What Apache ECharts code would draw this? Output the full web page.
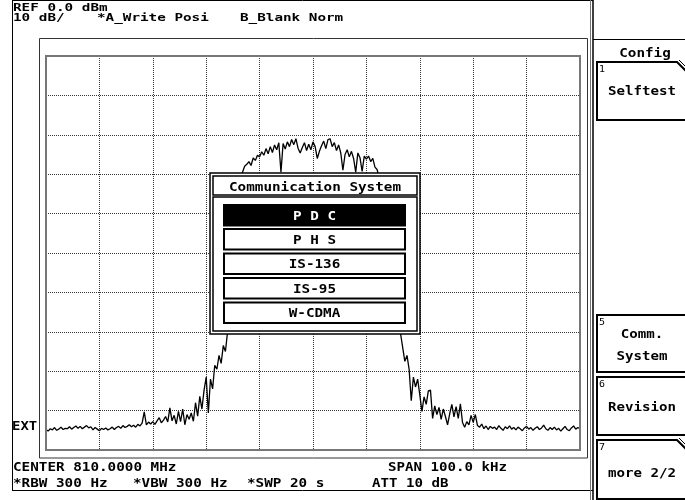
<!DOCTYPE html>
<html><head><meta charset="utf-8">
<script src="https://cdn.jsdelivr.net/npm/echarts@6/dist/echarts.min.js"></script>
<style>html,body{margin:0;padding:0;background:#fff}#c{width:685px;height:500px}</style>
</head><body><div id="c"></div>
<script>
// ---- instrument settings / data ----
const refLevelDbm = 0;          // REF 0.0 dBm (top of screen)
const dbPerDiv = 10;            // 10 dB/
const yDivs = 10;
const spanKhz = 100;            // SPAN 100.0 kHz, centred on 810 MHz
const sweepStartKhz = -50;      // offset from centre
const sweepStepKhz = 0.4;       // spacing of trace points
// Trace A (Write, Posi) level in dBm, one value per sweep point
const traceA = [
 -94.8,-95.2,-94.6,-94.9,-94.3,-95.0,-94.7,-94.2,-94.8,-94.5,
 -94.6,-94.1,-94.7,-94.3,-93.9,-94.5,-94.0,-94.6,-94.2,-93.8,
 -94.4,-94.1,-94.9,-94.3,-94.7,-95.1,-94.5,-94.8,-94.4,-94.9,
 -94.6,-94.2,-94.8,-94.3,-94.0,-94.5,-93.8,-94.3,-94.0,-93.6,
 -94.1,-93.7,-94.2,-93.5,-93.9,-93.2,-90.3,-93.6,-92.9,-93.4,
 -92.8,-93.5,-92.6,-91.8,-93.1,-92.4,-91.5,-92.9,-89.3,-92.6,
 -91.2,-93.4,-90.2,-92.8,-89.6,-93.6,-91.0,-92.2,-90.6,-92.7,
 -88.0,-91.4,-86.4,-89.6,-84.8,-81.5,-90.6,-82.0,-84.5,-78.5,
 -79.5,-76.0,-78.0,-73.5,-75.0,-70.0,-66.0,-60.0,-52.0,-44.0,
 -37.0,-32.0,-29.5,-28.0,-27.5,-26.8,-27.8,-25.9,-26.5,-25.2,
 -25.6,-24.3,-25.2,-23.5,-24.8,-23.0,-24.5,-22.6,-23.8,-22.0,
 -29.5,-22.2,-23.6,-21.8,-23.0,-21.2,-22.5,-21.0,-23.4,-24.6,
 -23.2,-22.0,-24.0,-22.4,-23.8,-21.8,-23.0,-26.0,-24.2,-22.8,
 -21.6,-23.5,-21.2,-21.0,-23.0,-22.0,-24.0,-22.6,-24.6,-29.0,
 -25.0,-23.8,-25.6,-24.2,-26.0,-29.5,-24.6,-25.8,-29.3,-25.4,
 -26.2,-25.4,-26.8,-26.0,-28.2,-28.8,-31.0,-35.0,-40.0,-46.0,
 -51.0,-56.0,-61.0,-65.0,-68.0,-69.5,-70.5,-74.0,-77.5,-76.0,
 -79.5,-87.5,-81.5,-84.0,-82.0,-86.0,-90.2,-86.5,-88.4,-85.0,
 -84.8,-92.0,-88.8,-91.0,-89.2,-92.2,-89.6,-91.5,-93.6,-90.8,
 -88.4,-91.6,-89.0,-92.0,-88.3,-93.0,-94.2,-92.8,-93.6,-91.2,
 -93.0,-91.0,-93.8,-94.2,-93.4,-94.6,-93.9,-94.8,-94.0,-94.5,
 -94.2,-94.8,-93.8,-94.5,-95.0,-94.1,-94.6,-93.9,-94.7,-94.3,
 -94.9,-94.2,-94.6,-95.1,-94.4,-94.0,-94.7,-94.3,-95.0,-94.5,
 -94.1,-94.8,-94.4,-93.7,-94.6,-95.0,-94.3,-94.8,-94.2,-94.9,
 -94.5,-95.2,-94.6,-94.0,-94.8,-95.1,-94.4,-93.9,-94.7,-94.3,-94.6
];
const headerTexts = ['REF 0.0 dBm', '10 dB/', '*A_Write Posi', 'B_Blank Norm'];
const footerTexts = ['CENTER 810.0000 MHz', '*RBW 300 Hz', '*VBW 300 Hz', '*SWP 20 s', 'SPAN 100.0 kHz', 'ATT 10 dB'];
const sideLabel = 'EXT';
const dialogTitle = 'Communication System';
const dialogItems = ['P D C', 'P H S', 'IS-136', 'IS-95', 'W-CDMA'];
const selectedItem = 0;
const menuTitle = 'Config';
const softkeys = [
  {num: '1', lines: ['Selftest'], more: true},
  {num: '5', lines: ['Comm.', 'System'], more: false},
  {num: '6', lines: ['Revision'], more: false},
  {num: '7', lines: ['more 2/2'], more: true}
];

// ---- build ----
const tracePoints = traceA.map((v, i) => [sweepStartKhz + i * sweepStepKhz, v]);
const FONT = '"DejaVu Sans Mono", monospace';
function txt(s, x, y, fs, adv, align, fill, z, weight) {
  const sx = adv / (0.602 * fs);
  return {type: 'text', x: x, y: y, scaleX: sx, z: z || 50, silent: true,
    style: {text: s, x: 0, y: 0, font: (weight || 'bold') + ' ' + fs + 'px ' + FONT, fill: fill || '#000',
      align: align || 'left', verticalAlign: 'middle'}};
}
function line(x1, y1, x2, y2, stroke, lw, z) {
  return {type: 'line', z: z || 40, silent: true, shape: {x1, y1, x2, y2}, style: {stroke: stroke || '#000', lineWidth: lw || 1}};
}
function rect(x, y, w, h, opt) {
  return Object.assign({type: 'rect', z: 40, silent: true, shape: {x, y, width: w, height: h}, style: {fill: 'none', stroke: '#000', lineWidth: 1}}, opt || {});
}
const g = [];
// panel borders
g.push(line(12.5, 0, 12.5, 491));
g.push(line(12, 0.5, 593, 0.5));
g.push(line(12, 490.5, 593, 490.5));
g.push(line(590.5, 0, 590.5, 500, '#777', 1));
g.push(line(593, 0, 593, 500, '#000', 1.5));
g.push(line(593, 39.5, 685, 39.5));
// plot frames
g.push(rect(39.5, 38.5, 548, 419.5, {style: {fill: 'none', stroke: '#333', lineWidth: 1}}));
g.push(rect(46, 56, 534, 394, {style: {fill: 'none', stroke: '#777', lineWidth: 2}}));
// header/footer texts
g.push(txt(headerTexts[0], 13, 8, 11, 8.6));
g.push(txt(headerTexts[1], 13, 18, 11, 8.6));
g.push(txt(headerTexts[2], 97, 18, 11, 8.6));
g.push(txt(headerTexts[3], 240, 18, 11, 8.6));
g.push(txt(sideLabel, 12, 426.5, 12, 8.4));
g.push(txt(footerTexts[0], 13, 467.5, 12, 8.6));
g.push(txt(footerTexts[1], 13, 484, 12, 8.6));
g.push(txt(footerTexts[2], 133, 484, 12, 8.6));
g.push(txt(footerTexts[3], 247, 484, 12, 8.6));
g.push(txt(footerTexts[4], 388, 467.5, 12, 8.5));
g.push(txt(footerTexts[5], 372, 484, 12, 8.5));
// dialog
g.push(rect(210, 173, 210, 161, {z: 90, style: {fill: '#fff', stroke: '#000', lineWidth: 1.5}}));
g.push(rect(213, 176, 204, 19, {z: 91, style: {fill: 'none', stroke: '#000', lineWidth: 1.5}}));
g.push(rect(213, 197, 204, 134, {z: 91, style: {fill: 'none', stroke: '#000', lineWidth: 1.5}}));
g.push(txt(dialogTitle, 315, 187.5, 13, 8.6, 'center', '#000', 92));
const itemTops = [205, 229, 253.5, 278, 302.5];
dialogItems.forEach((s, i) => {
  const sel = i === selectedItem;
  g.push(rect(224, itemTops[i], 181, 20.5, {z: 92, style: {fill: sel ? '#000' : '#fff', stroke: '#000', lineWidth: 2}}));
  g.push(txt(s, 314.5, itemTops[i] + 11.5, 13, 8.6, 'center', sel ? '#fff' : '#000', 93));
});
// softkey menu
g.push(txt(menuTitle, 645, 53.5, 13, 8.6, 'center'));
const keyBoxes = [[62, 120], [315, 372], [377, 435], [440, 499]];
softkeys.forEach((k, i) => {
  const [t, b] = keyBoxes[i];
  if (k.more) {
    g.push({type: 'polyline', z: 40, silent: true, shape: {points: [[690, b], [597, b], [597, t], [677, t], [687, t + 10]]}, style: {stroke: '#000', lineWidth: 2, fill: null}});
    g.push(line(679, t - 2, 688, t + 7, '#000', 1));
  } else {
    g.push({type: 'polyline', z: 40, silent: true, shape: {points: [[690, b], [597, b], [597, t], [690, t]]}, style: {stroke: '#000', lineWidth: 2, fill: null}});
  }
  g.push(txt(k.num, 599, t + 7.5, 9, 6, 'left', '#000', 50, 'normal'));
  const mid = (t + b) / 2 + (i === 3 ? 3 : 0);
  if (k.lines.length === 1) {
    g.push(txt(k.lines[0], 642, (i === 0 ? t + 28 : mid) + 1.5, 13, 8.5, 'center'));
  } else {
    g.push(txt(k.lines[0], 642, t + 19.5, 13, 8.5, 'center'));
    g.push(txt(k.lines[1], 642, t + 41.5, 13, 8.5, 'center'));
  }
});

const chart = echarts.init(document.getElementById('c'), null, {renderer: 'canvas'});
chart.setOption({
  animation: false,
  backgroundColor: '#fff',
  grid: {left: 46, right: 105, top: 56, bottom: 50, containLabel: false},
  xAxis: {type: 'value', min: sweepStartKhz, max: sweepStartKhz + spanKhz, interval: spanKhz / 10,
    axisLine: {show: false}, axisTick: {show: false}, axisLabel: {show: false},
    splitLine: {show: true, lineStyle: {type: 'dotted', color: '#333', width: 1}}},
  yAxis: {type: 'value', min: refLevelDbm - dbPerDiv * yDivs, max: refLevelDbm, interval: dbPerDiv,
    axisLine: {show: false}, axisTick: {show: false}, axisLabel: {show: false},
    splitLine: {show: true, lineStyle: {type: 'dotted', color: '#333', width: 1}}},
  series: [{type: 'line', data: tracePoints, showSymbol: false, symbol: 'none', z: 5,
    lineStyle: {color: '#000', width: 1.3}, clip: true}],
  graphic: {elements: g}
});
</script></body></html>
